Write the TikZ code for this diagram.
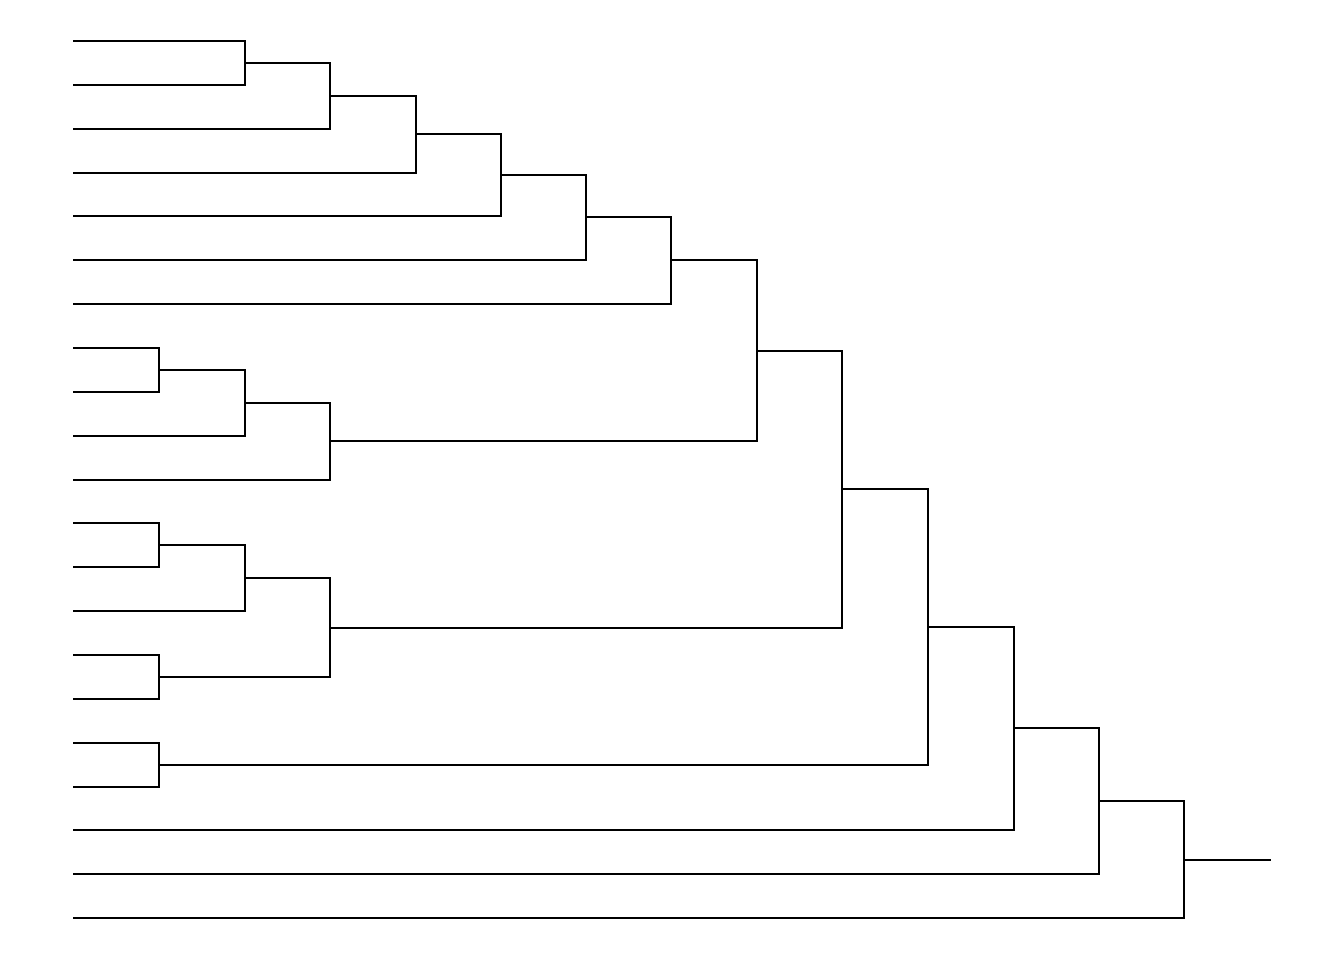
\documentclass[tikz,border=0pt]{standalone}
\usepackage{tikz}
\tikzset{
    branch/.style={line width=1.8pt, black, line cap=rect}
}
\begin{document}
\begin{tikzpicture}[x=0.03cm, y=-0.03cm]
    \useasboundingbox (0,0) rectangle (1344,960);

    % leaves
    \coordinate (l01) at (74,41);
    \coordinate (l02) at (74,85);
    \coordinate (l03) at (74,129);
    \coordinate (l04) at (74,173);
    \coordinate (l05) at (74,216);
    \coordinate (l06) at (74,260);
    \coordinate (l07) at (74,304);
    \coordinate (l08) at (74,348);
    \coordinate (l09) at (74,392);
    \coordinate (l10) at (74,436);
    \coordinate (l11) at (74,480);
    \coordinate (l12) at (74,523);
    \coordinate (l13) at (74,567);
    \coordinate (l14) at (74,611);
    \coordinate (l15) at (74,655);
    \coordinate (l16) at (74,699);
    \coordinate (l17) at (74,743);
    \coordinate (l18) at (74,787);
    \coordinate (l19) at (74,830);
    \coordinate (l20) at (74,874);
    \coordinate (l21) at (74,918);

    % joins
    \coordinate (j01) at (245,63);
    \coordinate (j02) at (330,96);
    \coordinate (j03) at (416,134);
    \coordinate (j04) at (501,175);
    \coordinate (j05) at (586,217);
    \coordinate (j06) at (671,260);
    \coordinate (j07) at (159,370);
    \coordinate (j08) at (245,403);
    \coordinate (j09) at (330,441);
    \coordinate (j10) at (757,351);
    \coordinate (j11) at (159,545);
    \coordinate (j12) at (245,578);
    \coordinate (j13) at (159,677);
    \coordinate (j14) at (330,628);
    \coordinate (j15) at (842,489);
    \coordinate (j16) at (159,765);
    \coordinate (j17) at (928,627);
    \coordinate (j18) at (1014,728);
    \coordinate (j19) at (1099,801);
    \coordinate (j20) at (1184,860);
    \coordinate (root) at (1270,860);

    \draw [branch] (j01) |- (l01);
    \draw [branch] (j01) |- (l02);
    \draw [branch] (j02) |- (j01);
    \draw [branch] (j02) |- (l03);
    \draw [branch] (j03) |- (j02);
    \draw [branch] (j03) |- (l04);
    \draw [branch] (j04) |- (j03);
    \draw [branch] (j04) |- (l05);
    \draw [branch] (j05) |- (j04);
    \draw [branch] (j05) |- (l06);
    \draw [branch] (j06) |- (j05);
    \draw [branch] (j06) |- (l07);
    \draw [branch] (j07) |- (l08);
    \draw [branch] (j07) |- (l09);
    \draw [branch] (j08) |- (j07);
    \draw [branch] (j08) |- (l10);
    \draw [branch] (j09) |- (j08);
    \draw [branch] (j09) |- (l11);
    \draw [branch] (j10) |- (j06);
    \draw [branch] (j10) |- (j09);
    \draw [branch] (j11) |- (l12);
    \draw [branch] (j11) |- (l13);
    \draw [branch] (j12) |- (j11);
    \draw [branch] (j12) |- (l14);
    \draw [branch] (j13) |- (l15);
    \draw [branch] (j13) |- (l16);
    \draw [branch] (j14) |- (j12);
    \draw [branch] (j14) |- (j13);
    \draw [branch] (j15) |- (j10);
    \draw [branch] (j15) |- (j14);
    \draw [branch] (j16) |- (l17);
    \draw [branch] (j16) |- (l18);
    \draw [branch] (j17) |- (j15);
    \draw [branch] (j17) |- (j16);
    \draw [branch] (j18) |- (j17);
    \draw [branch] (j18) |- (l19);
    \draw [branch] (j19) |- (j18);
    \draw [branch] (j19) |- (l20);
    \draw [branch] (j20) |- (j19);
    \draw [branch] (j20) |- (l21);
    \draw [branch] (j20) -- (root);

\end{tikzpicture}
\end{document}
